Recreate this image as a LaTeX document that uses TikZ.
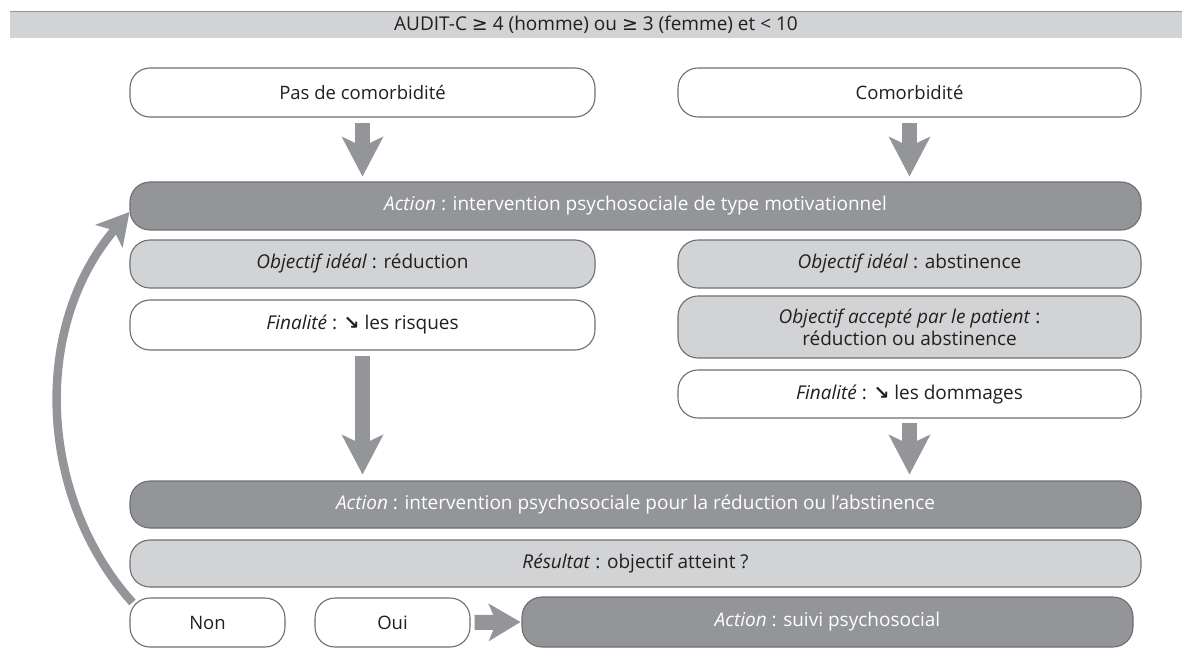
\documentclass[tikz,border=0pt]{standalone}
\usepackage{fontspec}
\setmainfont{Open Sans}
\newfontfamily\symf{DejaVu Sans}
\usetikzlibrary{arrows.meta}
\definecolor{dk}{HTML}{939598}
\definecolor{lt}{HTML}{D1D3D4}
\definecolor{bd}{HTML}{6D6E71}
\definecolor{txt}{HTML}{231F20}
\newcommand{\dn}{{\symf\bfseries ↘}}
\newcommand{\gee}{{\symf ≥}}
\begin{document}
\begin{tikzpicture}[x=1pt,y=-1pt,
 box/.style={draw=bd, line width=1.1pt, rounded corners=20pt, minimum height=48pt, inner sep=0pt, font=\fontsize{19}{23}\selectfont, text=txt, align=center},
 wbox/.style={box, fill=white},
 lbox/.style={box, fill=lt},
 dbox/.style={box, fill=dk, text=white},
 hbox/.style={wbox, font=\fontsize{18.5}{22}\selectfont},
 barrow/.style={draw=dk, line width=15pt, -{Stealth[length=40pt,width=42pt,inset=10pt,line width=0pt]}},
 harrow/.style={draw=dk, line width=15pt, -{Stealth[length=32pt,width=38pt,inset=8pt,line width=0pt]}},
 carrow/.style={draw=dk, line width=8.5pt, -{Stealth[length=32pt,width=36pt,inset=8pt,line width=0pt]}}
]
\useasboundingbox (0,0) rectangle (1182,666);
% header
\node[fill=lt, minimum width=1172pt, minimum height=27pt, inner sep=0pt, text=txt, font=\fontsize{19}{22}\selectfont] (hdr) at (596,25) {AUDIT-C \gee{} 4 (homme) ou \gee{} 3 (femme) et < 10};
\draw[dk, line width=1.5pt] (hdr.north west) -- (hdr.north east);
% boxes
\node[hbox, minimum width=465pt, minimum height=49pt] (pas) at (362.5,92.5) {Pas de comorbidité};
\node[hbox, minimum width=463pt, minimum height=49pt] (com) at (909.5,92.5) {Comorbidité};
\node[dbox, minimum width=1011pt] (act1) at (635.5,206) {\textit{Action} : intervention psychosociale de type motivationnel};
\node[lbox, minimum width=465pt] (obj1) at (362.5,264) {\textit{Objectif idéal} : réduction};
\node[lbox, minimum width=463pt] (obj2) at (909.5,264) {\textit{Objectif idéal} : abstinence};
\node[wbox, minimum width=465pt, minimum height=50pt] (fin1) at (362.5,325) {\textit{Finalité} : \dn{} les risques};
\node[lbox, minimum width=463pt, minimum height=62pt, font=\fontsize{19}{22}\selectfont] (acc) at (909.5,327) {\textit{Objectif accepté par le patient} :\\réduction ou abstinence};
\node[wbox, minimum width=463pt] (fin2) at (909.5,394) {\textit{Finalité} : \dn{} les dommages};
\node[dbox, minimum width=1011pt, minimum height=47pt] (act2) at (635.5,504.5) {\textit{Action} : intervention psychosociale pour la réduction ou l'abstinence};
\node[lbox, minimum width=1011pt, minimum height=47pt] (res) at (635.5,563.5) {\textit{Résultat} : objectif atteint ?};
\node[hbox, minimum width=155pt, minimum height=49pt] (non) at (207.5,622.5) {Non};
\node[hbox, minimum width=155pt, minimum height=49pt] (oui) at (392.5,622.5) {Oui};
\node[dbox, minimum width=611pt, minimum height=50pt] (suivi) at (827.5,622) {\textit{Action} : suivi psychosocial};
% arrows
\draw[barrow, shorten <=5pt, shorten >=5pt] (pas.south) -- (pas.south |- act1.north);
\draw[barrow, shorten <=5pt, shorten >=5pt] (com.south) -- (com.south |- act1.north);
\draw[barrow, shorten <=5pt, shorten >=6pt] (fin1.south) -- (fin1.south |- act2.north);
\draw[barrow, shorten <=4pt, shorten >=6pt] (fin2.south) -- (fin2.south |- act2.north);
\draw[harrow, shorten <=4pt, shorten >=1pt] (oui.east) -- (suivi.west);
\draw[carrow] ([xshift=3pt,yshift=-5pt]non.north west) .. controls (40,500) and (30,330) .. ([yshift=-6pt]act1.west);
\end{tikzpicture}
\end{document}
